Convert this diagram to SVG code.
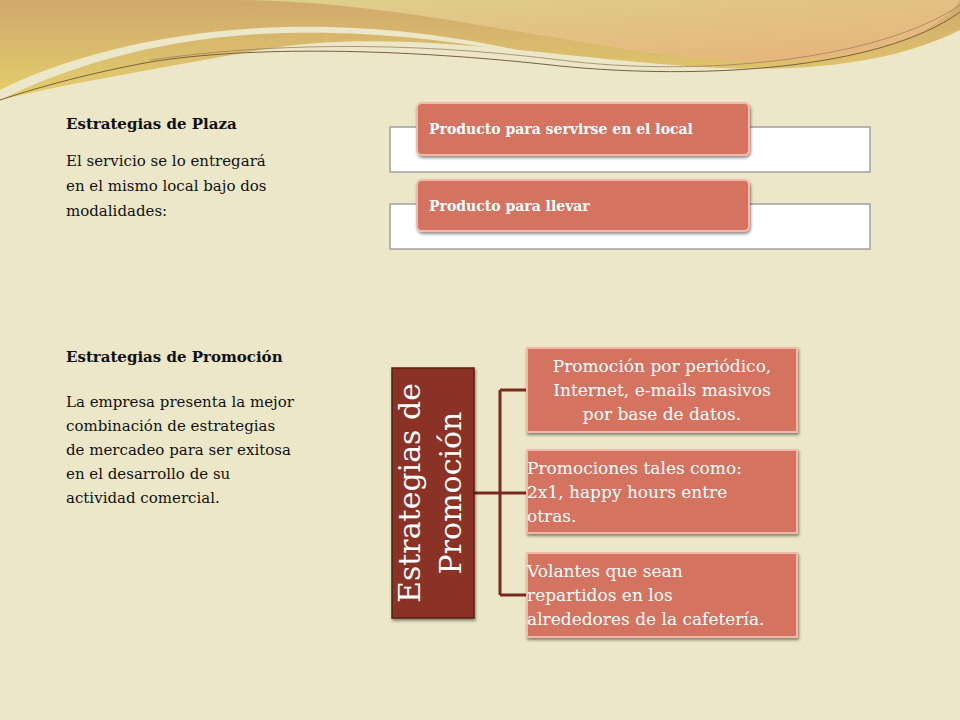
<svg xmlns="http://www.w3.org/2000/svg" width="960" height="720" viewBox="0 0 960 720">
<defs>
<linearGradient id="bg1" x1="0" y1="0" x2="0" y2="1"><stop offset="0" stop-color="#d0a96e"/><stop offset="1" stop-color="#e4cf6a"/></linearGradient>
<linearGradient id="bg2" x1="0" y1="0" x2="1" y2="1"><stop offset="0" stop-color="#ddd08e"/><stop offset="1" stop-color="#e8b27a"/></linearGradient>
<filter id="sh" x="-10%" y="-10%" width="130%" height="140%"><feDropShadow dx="1" dy="2" stdDeviation="1.5" flood-color="#000" flood-opacity="0.45"/></filter>
<style>
.t{font-family:"DejaVu Serif","Liberation Serif",serif;font-size:15px;fill:#111}
.b{font-weight:bold}
.rb{fill:#d4735f;stroke:#f3b9a8;stroke-width:2}
.wb{fill:#ffffff;stroke:#a0a0a0;stroke-width:1.5}
.w{font-family:"DejaVu Serif","Liberation Serif",serif;fill:#fff}
.c{stroke:#7a2a1c;stroke-width:3;fill:none}
</style>
</defs>
<rect width="960" height="720" fill="#ebe7c8"/>
<path d="M0 0 H960 V30 C900 60 820 72 720 68 C560 60 400 25 260 50 C160 68 60 85 0 100 Z" fill="url(#bg1)"/>
<path d="M0 100 C60 70 150 40 260 34 C380 28 480 45 560 60 C480 40 380 22 260 28 C150 34 60 60 0 90 Z" fill="#ebe7c8"/>
<path d="M230 0 H960 V0 C940 35 860 62 760 62 C600 58 420 0 230 0 Z" fill="url(#bg2)"/>
<path d="M960 12 C880 70 700 80 560 66 C400 48 250 46 150 62 C80 75 30 90 0 100" fill="none" stroke="#7a6040" stroke-width="1"/>
<path d="M960 5 C880 60 700 78 560 60 C400 40 260 44 150 60" fill="none" stroke="#a08060" stroke-width="0.8"/>

<text class="t b" x="66" y="129">Estrategias de Plaza</text>
<text class="t" x="66" y="166">El servicio se lo entregará</text>
<text class="t" x="66" y="191">en el mismo local bajo dos</text>
<text class="t" x="66" y="216">modalidades:</text>

<text class="t b" x="66" y="362">Estrategias de Promoción</text>
<text class="t" x="66" y="407">La empresa presenta la mejor</text>
<text class="t" x="66" y="431">combinación de estrategias</text>
<text class="t" x="66" y="455">de mercadeo para ser exitosa</text>
<text class="t" x="66" y="479">en el desarrollo de su</text>
<text class="t" x="66" y="503">actividad comercial.</text>

<g id="plaza1">
<rect class="wb" x="390" y="127" width="480" height="45"/>
<rect class="rb" x="417" y="103" width="332" height="52" rx="5" filter="url(#sh)"/>
<text class="w" x="429" y="134" font-size="14" font-weight="bold">Producto para servirse en el local</text>
</g>
<g id="plaza2">
<rect class="wb" x="390" y="204" width="480" height="45"/>
<rect class="rb" x="417" y="180" width="332" height="51" rx="5" filter="url(#sh)"/>
<text class="w" x="429" y="211" font-size="14" font-weight="bold">Producto para llevar</text>
</g>

<g id="connectors">
<path class="c" d="M474 493 H500 M500 390 V595 M500 390 H527 M500 493 H527 M500 595 H527"/>
</g>

<g id="root">
<rect x="392" y="368" width="82" height="250" fill="#8a3325" stroke="#5a2015" stroke-width="1.5" filter="url(#sh)"/>
<text class="w" font-size="30" transform="translate(420 493) rotate(-90)" text-anchor="middle">Estrategias  de</text>
<text class="w" font-size="30" transform="translate(461 493) rotate(-90)" text-anchor="middle">Promoción</text>
</g>
<g id="p1">
<rect class="rb" x="527" y="348" width="270" height="84" filter="url(#sh)"/>
<text class="w" font-size="17" text-anchor="middle" x="662" y="372">Promoción por periódico,</text>
<text class="w" font-size="17" text-anchor="middle" x="662" y="396">Internet, e-mails masivos</text>
<text class="w" font-size="17" text-anchor="middle" x="662" y="420">por base de datos.</text>
</g>
<g id="p2">
<rect class="rb" x="527" y="450" width="270" height="83" filter="url(#sh)"/>
<text class="w" font-size="17" x="527" y="474">Promociones tales como:</text>
<text class="w" font-size="17" x="527" y="498">2x1, happy hours entre</text>
<text class="w" font-size="17" x="527" y="522">otras.</text>
</g>
<g id="p3">
<rect class="rb" x="527" y="553" width="270" height="84" filter="url(#sh)"/>
<text class="w" font-size="17" x="527" y="577">Volantes que sean</text>
<text class="w" font-size="17" x="527" y="601">repartidos en los</text>
<text class="w" font-size="17" x="527" y="625">alrededores de la cafetería.</text>
</g>
</svg>
